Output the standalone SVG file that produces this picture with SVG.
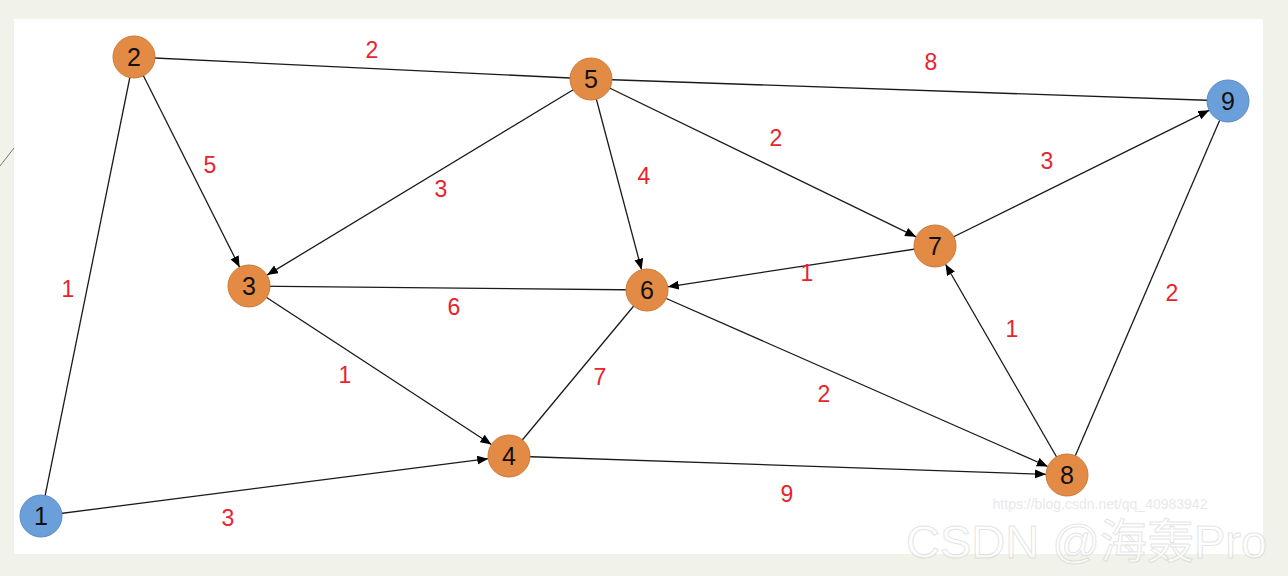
<svg xmlns="http://www.w3.org/2000/svg" width="1288" height="576" viewBox="0 0 1288 576">
<defs>
<marker id="arr" markerUnits="userSpaceOnUse" markerWidth="12" markerHeight="10" refX="11" refY="4.5" orient="auto">
<path d="M0,0 L11,4.5 L0,9 z" fill="#000"/>
</marker>
<style>
.e{stroke:#1a1a1a;stroke-width:1.3;fill:none}
.a{marker-end:url(#arr)}
.lbl{font-family:"Liberation Sans","Open Sans",sans-serif;font-size:23px;fill:#E8232B;text-anchor:middle}
.o{fill:#E38A45;stroke:#C97A3C;stroke-width:1}
.b{fill:#6A9FD9;stroke:#5A8CC4;stroke-width:1}
.n{font-family:"Liberation Sans","Open Sans",sans-serif;font-size:25px;fill:#111;text-anchor:middle}
</style>
</defs>
<rect x="0" y="0" width="1288" height="576" fill="#F1F3EA"/>
<rect x="14" y="19" width="1249" height="535" fill="#FFFFFF"/>
<line x1="0" y1="166" x2="14" y2="148" stroke="#7a7a6a" stroke-width="1"/>
<g id="connectors">
<line class="e" x1="134" y1="57" x2="591" y2="79"/>
<line class="e" x1="591" y1="79" x2="1228" y2="101"/>
<line class="e" x1="134" y1="57" x2="41" y2="516"/>
<line class="e a" x1="134" y1="57" x2="239.6" y2="267.2"/>
<line class="e a" x1="591" y1="79" x2="267.0" y2="275.1"/>
<line class="e a" x1="591" y1="79" x2="641.6" y2="269.7"/>
<line class="e a" x1="591" y1="79" x2="916.1" y2="236.8"/>
<line class="e a" x1="935" y1="246" x2="1209.2" y2="110.3"/>
<line class="e a" x1="935" y1="246" x2="667.8" y2="286.8"/>
<line class="e" x1="249" y1="286" x2="647" y2="290"/>
<line class="e a" x1="249" y1="286" x2="491.4" y2="444.5"/>
<line class="e" x1="647" y1="290" x2="509" y2="456"/>
<line class="e a" x1="647" y1="290" x2="1047.8" y2="466.5"/>
<line class="e a" x1="1067" y1="475" x2="945.5" y2="264.2"/>
<line class="e" x1="1067" y1="475" x2="1228" y2="101"/>
<line class="e a" x1="509" y1="456" x2="1046.0" y2="474.3"/>
<line class="e a" x1="41" y1="516" x2="488.2" y2="458.7"/>
</g>
<g id="edge-labels">
<text class="lbl" x="372" y="58">2</text>
<text class="lbl" x="931" y="70">8</text>
<text class="lbl" x="68" y="297">1</text>
<text class="lbl" x="210" y="173">5</text>
<text class="lbl" x="441" y="197">3</text>
<text class="lbl" x="644" y="184">4</text>
<text class="lbl" x="776" y="146">2</text>
<text class="lbl" x="1047" y="169">3</text>
<text class="lbl" x="807" y="281">1</text>
<text class="lbl" x="454" y="315">6</text>
<text class="lbl" x="345" y="383">1</text>
<text class="lbl" x="600" y="385">7</text>
<text class="lbl" x="824" y="402">2</text>
<text class="lbl" x="1012" y="337">1</text>
<text class="lbl" x="1172" y="301">2</text>
<text class="lbl" x="787" y="502">9</text>
<text class="lbl" x="228" y="526">3</text>
</g>
<g id="node1"><circle class="b" cx="41" cy="516" r="21"/><text class="n" x="41" y="525">1</text></g>
<g id="node2"><circle class="o" cx="134" cy="57" r="21"/><text class="n" x="134" y="66">2</text></g>
<g id="node3"><circle class="o" cx="249" cy="286" r="21"/><text class="n" x="249" y="295">3</text></g>
<g id="node4"><circle class="o" cx="509" cy="456" r="21"/><text class="n" x="509" y="465">4</text></g>
<g id="node5"><circle class="o" cx="591" cy="79" r="21"/><text class="n" x="591" y="88">5</text></g>
<g id="node6"><circle class="o" cx="647" cy="290" r="21"/><text class="n" x="647" y="299">6</text></g>
<g id="node7"><circle class="o" cx="935" cy="246" r="21"/><text class="n" x="935" y="255">7</text></g>
<g id="node8"><circle class="o" cx="1067" cy="475" r="21"/><text class="n" x="1067" y="484">8</text></g>
<g id="node9"><circle class="b" cx="1228" cy="101" r="21"/><text class="n" x="1228" y="110">9</text></g>
<g id="watermark" opacity="0.55">
<text x="1100" y="509" font-family="Liberation Sans,sans-serif" font-size="14" fill="#d6d6d6" text-anchor="middle">https://blog.csdn.net/qq_40983942</text>
<text x="906" y="558" font-family="Liberation Sans,'Noto Sans CJK SC',sans-serif" font-size="47" fill="#ffffff" stroke="#cfcfcf" stroke-width="1">CSDN @海轰Pro</text>
</g>
</svg>
